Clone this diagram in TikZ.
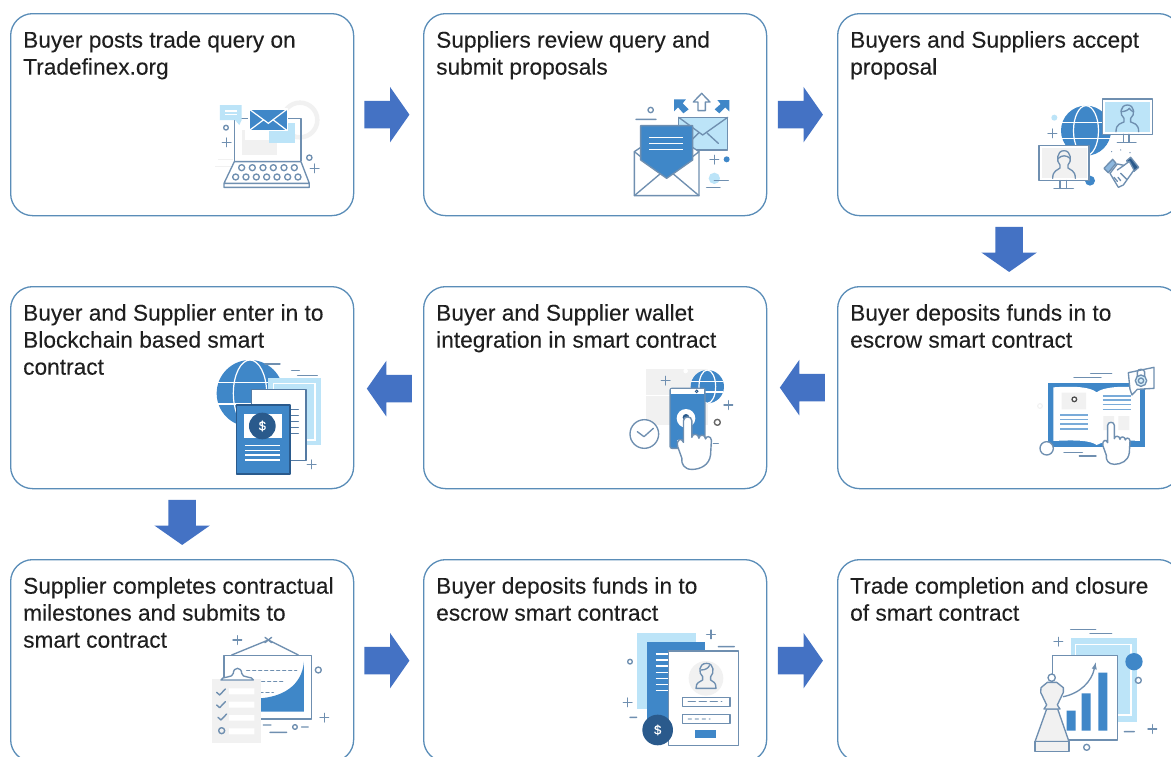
\documentclass[tikz,border=0pt]{standalone}
\usepackage{fontspec}
\setmainfont[FakeBold=0.12]{Liberation Sans}
\usetikzlibrary{shapes.arrows,calc}
\definecolor{boxline}{HTML}{5A8DB8}
\definecolor{arrowblue}{HTML}{4472C4}
\definecolor{iline}{HTML}{6F8FB0}
\definecolor{iblue}{HTML}{3F87C8}
\definecolor{ilight}{HTML}{BCE4F8}
\definecolor{igrey}{HTML}{F1F1F1}
\definecolor{inavy}{HTML}{2A5A8C}
\definecolor{txt}{HTML}{1F1F1F}
\tikzset{
  box/.style={draw=boxline,line width=1.3pt,rounded corners=22pt,minimum width=343pt,minimum height=202pt,anchor=north west,inner sep=0pt,fill=white},
  label/.style={anchor=north west,inner sep=0pt,align=left,text=txt,font=\fontsize{22.7pt}{27pt}\selectfont},
  blockarrow/.style={single arrow,fill=arrowblue,draw=none,inner sep=0pt,minimum height=45pt,minimum width=55pt,single arrow head extend=14pt,single arrow tip angle=110},
  icon/.style={draw=iline,line width=1.35pt,line cap=round,line join=round},
  iconscope/.style={x=0.3333pt,y=-0.3333pt},
  wl/.style={draw=white,line width=1.2pt},
  bl/.style={draw=iblue!70,line width=1.2pt},
  dollar/.style={text=white,inner sep=0pt,font=\fontsize{13pt}{13pt}\selectfont}
}
\newcommand{\shaft}{\rule{0pt}{27pt}}
\newcommand{\plusat}[2]{\draw[icon] (#1,#2) +(-13,0) -- +(13,0) +(0,-13) -- +(0,13);}
\newcommand{\handat}[3]{\begin{scope}[shift={(#1,#2)},scale=#3]
 \draw[icon,fill=white,line width=1.4pt] (-10,8) .. controls (-10,-4) and (10,-4) .. (10,8) -- (10,48)
  .. controls (11,38) and (26,38) .. (27,50) .. controls (28,40) and (42,40) .. (43,52)
  .. controls (44,44) and (56,44) .. (57,55) -- (55,90) .. controls (52,115) and (30,125) .. (10,125)
  .. controls (-8,125) and (-16,112) .. (-14,98) -- (-24,70) .. controls (-28,52) and (-14,48) .. (-10,60) -- cycle;
 \end{scope}}
\newcommand{\globeat}[3]{\fill[iblue] (#1,#2) circle (#3);
 \draw[wl] (#1,#2) ellipse ({#3*0.5} and #3);
 \draw[wl] (#1,#2) ++({-#3*0.95},{-#3*0.32}) -- ++({2*#3*0.95},0);
 \draw[wl] (#1,#2) ++({-#3*0.95},{#3*0.32}) -- ++({2*#3*0.95},0);}
\begin{document}
\begin{tikzpicture}[x=1pt,y=-1pt]
\clip (0,0) rectangle (1171,756);
\fill[white] (0,0) rectangle (1171,756);
% boxes
\node[box] (b1) at (10,13) {};
\node[box] (b2) at (423,13) {};
\node[box] (b3) at (837,13) {};
\node[box] (b4) at (837,286) {};
\node[box] (b5) at (423,286) {};
\node[box] (b6) at (10,286) {};
\node[box] (b7) at (10,559) {};
\node[box] (b8) at (423,559) {};
\node[box] (b9) at (837,559) {};
% labels
\node[label] (t1) at (23,31) {Buyer posts trade query on\\Tradefinex.org};
\node[label] (t2) at (436,31) {Suppliers review query and\\submit proposals};
\node[label] (t3) at (850,31) {Buyers and Suppliers accept\\proposal};
\node[label] (t4) at (850,304) {Buyer deposits funds in to\\escrow smart contract};
\node[label] (t5) at (436,304) {Buyer and Supplier wallet\\integration in smart contract};
\node[label] (t6) at (23,304) {Buyer and Supplier enter in to\\Blockchain based smart\\contract};
\node[label] (t7) at (23,577) {Supplier completes contractual\\milestones and submits to\\smart contract};
\node[label] (t8) at (436,577) {Buyer deposits funds in to\\escrow smart contract};
\node[label] (t9) at (850,577) {Trade completion and closure\\of smart contract};
% arrows
\node[blockarrow] (a12) at ($(b1.east)!.5!(b2.west)+(-6.5,0)$) {\shaft};
\node[blockarrow] (a23) at ($(b2.east)!.5!(b3.west)+(-6.5,0)$) {\shaft};
\node[blockarrow,rotate=-90] (a34) at ($(b3.south)!.5!(b4.north)+(0,-6.5)$) {\shaft};
\node[blockarrow,rotate=180] (a45) at ($(b4.west)!.5!(b5.east)+(5,0)$) {\shaft};
\node[blockarrow,rotate=180] (a56) at ($(b5.west)!.5!(b6.east)+(5.5,1)$) {\shaft};
\node[blockarrow,rotate=-90] (a67) at ($(b6.south)!.5!(b7.north)+(0,-6.5)$) {\shaft};
\node[blockarrow] (a78) at ($(b7.east)!.5!(b8.west)+(-6.5,0)$) {\shaft};
\node[blockarrow] (a89) at ($(b8.east)!.5!(b9.west)+(-6.5,0)$) {\shaft};

% ICON 1
\begin{scope}[shift={(200,90)},iconscope]
 \draw[igrey,line width=4.5pt] (300,90) circle (52);
 \draw[igrey,line width=.8pt] (55,208) -- (100,208) (45,228) -- (100,228);
 \draw[icon] (103,212) -- (103,85) -- (303,85) -- (303,212);
 \fill[igrey] (125,150) rectangle (230,195);
 \fill[igrey] (125,120) rectangle (135,150);
 \fill[ilight] (208,100) rectangle (285,158);
 \fill[ilight] (60,45) -- (125,45) -- (125,90) -- (118,105) -- (105,90) -- (60,90) -- cycle;
 \draw[wl] (75,63) -- (110,63) (75,74) -- (110,74);
 \draw[icon,fill=iblue,draw=white] (147,57) rectangle (262,122);
 \draw[wl] (147,57) -- (205,100) -- (262,57) (147,122) -- (190,90) (262,122) -- (220,90);
 \draw[icon] (78,113) circle (7) (328,203) circle (8);
 \plusat{80}{157}\plusat{344}{235}
 \draw[icon] (103,215) -- (303,215) -- (328,280) -- (72,280) -- cycle (72,280) -- (72,292) -- (328,292) -- (328,280);
 \foreach \kx in {125,157,189,220,252,283} \draw[icon] (\kx,233) circle (9);
 \foreach \kx in {107,138,169,200,231,263,294} \draw[icon] (\kx,261) circle (9);
\end{scope}

% ICON 2
\begin{scope}[shift={(620,90)},iconscope]
 \draw[icon] (92,60) circle (8) (48,88) -- (108,88);
 \draw[icon,fill=ilight] (176,82) rectangle (323,180);
 \draw[icon] (176,82) -- (248,135) -- (323,82) (205,160) -- (235,130) (295,160) -- (262,130);
 \fill[iblue] (162,28) -- (198,28) -- (188,40) -- (206,58) -- (190,70) -- (174,52) -- (162,64) -- cycle;
 \fill[iblue] (328,30) -- (292,30) -- (302,42) -- (284,58) -- (298,70) -- (316,52) -- (328,64) -- cycle;
 \draw[icon] (245,10) -- (270,36) -- (256,36) -- (256,62) -- (234,62) -- (234,36) -- (220,36) -- cycle;
 \draw[icon,fill=white] (43,185) -- (140,120) -- (237,185) -- (237,317) -- (43,317) -- cycle;
 \draw[icon,fill=iblue,draw=iline] (62,107) -- (218,107) -- (218,210) -- (140,265) -- (62,210) -- cycle;
 \draw[icon] (43,317) -- (120,252) (237,317) -- (160,252) (43,185) -- (62,200) (237,185) -- (218,200);
 \draw[wl] (88,143) -- (190,143) (88,160) -- (190,160) (88,178) -- (190,178);
 \plusat{283}{209}
 \fill[iblue] (320,208) circle (9);
 \fill[ilight] (283,265) circle (17);
 \draw[icon] (283,271) -- (325,271) (260,292) -- (300,292);
\end{scope}

% ICON 3
\begin{scope}[shift={(1030,90)},iconscope]
 \globeat{168}{122}{75}
 \fill[ilight] (73,83) circle (9);
 \plusat{67}{130}
 \fill[iblue] (180,272) circle (15);
 \draw[icon,fill=white] (217,27) rectangle (367,133);
 \fill[ilight] (225,35) rectangle (360,125);
 \draw[icon] (258,125) .. controls (258,100) and (275,100) .. (282,96) -- (282,85) .. controls (268,75) and (270,45) .. (292,45) .. controls (314,45) and (316,75) .. (302,85) -- (302,96) .. controls (310,100) and (326,100) .. (326,125);
 \draw[icon] (273,65) .. controls (285,65) and (295,60) .. (298,55) .. controls (302,60) and (306,65) .. (311,65);
 \draw[icon] (280,133) -- (280,155) (297,133) -- (297,155) (262,157) -- (318,157);
 \draw[icon,fill=white] (27,167) rectangle (177,272);
 \fill[igrey] (35,175) rectangle (170,265);
 \draw[icon] (68,265) .. controls (68,240) and (85,240) .. (90,234) -- (90,225) .. controls (78,215) and (80,182) .. (102,182) .. controls (124,182) and (126,215) .. (114,225) -- (114,234) .. controls (120,240) and (136,240) .. (136,265);
 \draw[icon] (85,205) .. controls (95,195) and (110,195) .. (120,205);
 \draw[icon] (90,272) -- (90,295) (110,272) -- (110,295) (72,296) -- (130,296);
 \draw[icon,fill=iblue!60] (222,235) -- (248,208) -- (258,220) -- (235,248) -- cycle;
 \draw[icon,fill=inavy] (290,212) -- (302,202) -- (326,232) -- (312,244) -- cycle;
 \draw[icon,fill=white] (240,250) -- (262,222) -- (282,226) -- (298,214) -- (312,240) -- (280,285) -- (265,292) -- cycle;
 \draw[icon] (262,240) -- (282,226) (264,262) -- (272,272) (252,262) -- (262,274) (272,250) -- (290,268);
 \fill[iline] (245,185) circle (2) (272,180) circle (2) (300,188) circle (2);
\end{scope}

% ICON 4
\begin{scope}[shift={(1030,360)},iconscope]
 \draw[igrey,line width=1pt] (30,138) circle (7);
 \draw[icon] (182,41) -- (245,41) (132,53) -- (213,53) (102,278) -- (157,278) (148,288) -- (198,288);
 \fill[iblue] (53,70) rectangle (345,262);
 \fill[white] (70,82) .. controls (130,78) and (180,80) .. (200,97) .. controls (220,80) and (280,78) .. (330,82) -- (330,243) .. controls (280,240) and (225,240) .. (200,255) .. controls (180,240) and (130,240) .. (70,243) -- cycle;
 \fill[igrey] (95,98) rectangle (168,148) (220,168) rectangle (252,210) (265,168) rectangle (298,210);
 \draw[black!70,line width=1.3pt,fill=white] (133,118) circle (7);
 \draw[bl] (218,108) -- (302,108) (218,120) -- (302,120) (218,133) -- (302,133) (218,148) -- (302,148);
 \draw[bl] (90,165) -- (175,165) (90,178) -- (175,178) (90,192) -- (175,192) (90,207) -- (175,207);
 \draw[icon,fill=white] (50,265) circle (20);
 \handat{243}{188}{1}
 \draw[icon,fill=white] (295,38) -- (372,22) -- (372,85) -- (322,88) -- (306,105) -- (300,88) -- cycle;
 \draw[icon,fill=ilight!60] (333,62) circle (17);
 \draw[icon] (333,62) circle (8);
 \draw[icon] (322,48) -- (322,36) .. controls (322,25) and (344,25) .. (344,36) -- (344,48);
\end{scope}

% ICON 5
\begin{scope}[shift={(620,360)},iconscope]
 \fill[igrey] (78,28) rectangle (265,195);
 \fill[white] (197,33) circle (7);
 \draw[white] (78,105) -- (150,105);
 \plusat{137}{62}
 \globeat{262}{80}{50}
 \draw[icon,fill=iblue,rounded corners=2pt] (150,85) rectangle (255,265);
 \fill[white] (152,87) rectangle (253,103);
 \draw[inavy,line width=.9pt] (230,94) circle (4);
 \fill[white] (198,175) circle (28);
 \fill[inavy] (198,172) circle (10);
 \fill[white] (175,243) circle (4);
 \handat{203}{172}{1.25}
 \draw[icon,fill=white] (73,222) circle (43);
 \draw[icon] (52,215) -- (72,230) -- (100,205);
 \plusat{325}{135}
 \draw[icon,draw=black!60,line width=1.4pt] (292,187) circle (9);
 \draw[icon] (280,250) -- (295,250);
\end{scope}

% ICON 6
\begin{scope}[shift={(205,355)},iconscope]
 \globeat{135}{115}{100}
 \draw[icon] (180,27) -- (225,27) (260,47) -- (283,47) (278,62) -- (337,62);
 \fill[ilight] (190,70) rectangle (347,270);
 \draw[wl] (205,85) rectangle (330,255);
 \draw[icon,fill=white,draw=inavy!80] (140,103) rectangle (303,317);
 \draw[icon,draw=inavy!80] (255,163) -- (280,163) (255,182) -- (280,182) (255,200) -- (280,200) (255,218) -- (280,218) (255,235) -- (280,235);
 \draw[icon,fill=iblue,draw=inavy] (95,150) rectangle (255,357);
 \fill[white] (118,177) rectangle (230,248);
 \fill[inavy] (172,213) circle (40);
 \node[dollar] (d6) at (172,213) {\$};
 \draw[wl] (120,272) -- (225,272) (120,287) -- (225,287) (120,300) -- (225,300) (120,315) -- (225,315);
 \plusat{320}{328}
\end{scope}

% ICON 7
\begin{scope}[shift={(205,630)},iconscope]
 \plusat{97}{30}
 \draw[icon] (80,75) -- (190,30) -- (280,75) (180,22) -- (200,38) (200,22) -- (180,38);
 \draw[icon] (57,77) rectangle (320,267);
 \fill[iblue] (165,205) .. controls (230,200) and (290,170) .. (297,95) -- (297,245) -- (165,245) -- cycle;
 \draw[icon,dashed] (125,122) -- (275,122) (170,155) -- (240,155) (165,187) -- (205,187);
 \fill[igrey] (22,148) rectangle (168,338);
 \draw[icon,fill=white] (48,150) .. controls (48,138) and (85,145) .. (85,130) .. controls (85,110) and (110,110) .. (110,130) .. controls (110,145) and (145,138) .. (145,150) -- cycle;
 \foreach \cy/\cx in {187/48,225/48,262/52} \draw[icon,line width=1.4pt] (\cx-13,\cy) -- (\cx-4,\cy+8) -- (\cx+13,\cy-10);
 \draw[icon,line width=1.4pt] (50,302) circle (9);
 \fill[white] (72,175) rectangle (148,193) (72,215) rectangle (148,233) (72,255) rectangle (148,272) (72,295) rectangle (148,313);
 \draw[icon] (340,120) circle (9);
 \plusat{358}{263}
 \draw[icon] (175,285) -- (198,285) (195,307) -- (245,307) (270,291) circle (7) (290,291) -- (310,291);
\end{scope}

% ICON 8
\begin{scope}[shift={(615,625)},iconscope]
 \fill[ilight] (67,25) rectangle (243,252);
 \fill[iblue] (97,52) rectangle (270,290);
 \draw[wl] (122,87) -- (160,87) (122,105) -- (160,105) (122,123) -- (160,123) (122,142) -- (160,142) (122,160) -- (160,160) (122,178) -- (160,178) (122,196) -- (160,196);
 \draw[icon,fill=white] (160,78) rectangle (370,362);
 \fill[igrey] (273,160) circle (52);
 \draw[icon] (243,190) .. controls (243,170) and (255,172) .. (263,165) -- (263,155) .. controls (250,145) and (250,115) .. (275,115) .. controls (298,115) and (298,145) .. (287,155) -- (287,165) .. controls (295,172) and (303,170) .. (303,190) -- cycle;
 \draw[icon] (258,135) .. controls (270,135) and (280,130) .. (283,122);
 \draw[icon,line width=1.4pt] (202,217) rectangle (345,245) (202,268) rectangle (345,296);
 \draw[icon,dash pattern=on 7pt off 4pt,line width=1.4pt] (220,230) -- (320,230);
 \draw[icon,draw=iline!50,dash pattern=on 3pt off 4pt,line width=1.4pt] (220,282) -- (285,282);
 \fill[iblue] (240,314) rectangle (302,340);
 \fill[inavy] (128,315) circle (46);
 \node[dollar] (d8) at (128,315) {\$};
 \plusat{288}{28}
 \draw[icon] (310,65) -- (358,65) (45,110) circle (7) (45,277) -- (65,277);
 \plusat{38}{232}
\end{scope}

% ICON 9
\begin{scope}[shift={(1030,625)},iconscope]
 \draw[icon] (122,13) -- (197,13) (180,26) -- (245,26);
 \plusat{85}{50}
 \fill[ilight] (122,40) rectangle (322,290);
 \draw[wl] (137,58) rectangle (303,270);
 \fill[iblue] (312,110) circle (26);
 \draw[icon] (325,166) circle (9) (283,320) -- (313,320) (170,367) circle (9);
 \plusat{367}{312}
 \draw[icon,fill=white] (68,92) rectangle (262,345);
 \fill[iblue] (110,257) rectangle (137,317) (155,205) rectangle (182,317) (205,143) rectangle (232,317);
 \draw[icon,-latex] (100,215) .. controls (150,205) and (185,170) .. (197,112);
 \draw[icon,fill=white] (65,158) circle (11);
 \draw[icon,fill=igrey] (83,252) -- (117,350) -- (15,350) -- (50,252) -- cycle;
 \draw[icon,fill=igrey] (33,188) -- (52,172) -- (80,172) -- (100,188) -- (100,202) -- (82,240) -- (90,252) -- (42,252) -- (50,240) -- (32,202) -- cycle;
 \draw[icon,fill=igrey] (15,350) rectangle (117,380);
\end{scope}
\end{tikzpicture}
\end{document}
